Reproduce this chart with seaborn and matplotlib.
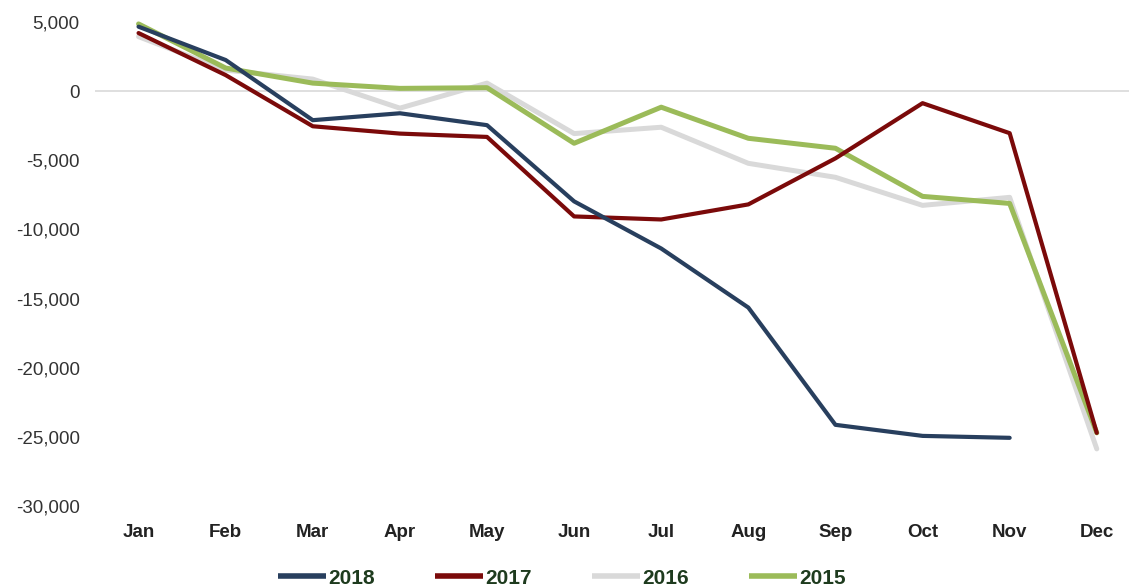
import matplotlib
matplotlib.use("Agg")
import matplotlib.pyplot as plt
import seaborn as sns
import pandas as pd
import numpy as np
from matplotlib.lines import Line2D

months = ["Jan", "Feb", "Mar", "Apr", "May", "Jun", "Jul", "Aug", "Sep", "Oct", "Nov", "Dec"]
s2018 = [4660, 2250, -2100, -1600, -2460, -7970, -11380, -15650, -24130, -24930, -25070, np.nan]
s2017 = [4200, 1160, -2540, -3070, -3310, -9060, -9280, -8190, -4860, -870, -3040, -24710]
s2016 = [3940, 1520, 870, -1230, 580, -3070, -2610, -5220, -6230, -8260, -7680, -25870]
s2015 = [4860, 1670, 580, 200, 250, -3770, -1160, -3410, -4130, -7610, -8120, -24710]
years = ["2018", "2017", "2016", "2015"]
colors = {"2018": "#283f5e", "2017": "#7b0a0a", "2016": "#d9d9d9", "2015": "#9bbb59"}
widths = {"2018": 3.0, "2017": 3.0, "2016": 3.6, "2015": 3.6}
yticks = [5000, 0, -5000, -10000, -15000, -20000, -25000, -30000]

rows = []
for y, vals in zip(years, [s2018, s2017, s2016, s2015]):
    for i, v in enumerate(vals):
        rows.append({"year": y, "month": months[i], "idx": i, "value": v})
df = pd.DataFrame(rows)

sns.set_theme(style="white")
plt.rcParams['font.family'] = ['Liberation Sans', 'DejaVu Sans']

fig = plt.figure(figsize=(11.29, 5.88), dpi=100)
ax = fig.add_axes([95/1129, 1 - 506/588, (1129 - 95)/1129, (506 - 22)/588])

ax.axhline(0, color="#d9d9d9", lw=1.2, zorder=1)

zorders = {"2016": 2, "2015": 3, "2017": 4, "2018": 5}
for y in ["2016", "2015", "2017", "2018"]:
    sub = df[df["year"] == y]
    sns.lineplot(data=sub, x="idx", y="value", ax=ax, color=colors[y],
                 lw=widths[y], zorder=zorders[y], clip_on=False,
                 solid_capstyle="round", solid_joinstyle="round", legend=False)

ax.set_xlim(-0.5, 11.37)
ax.set_ylim(-30000, 5000)
ax.set_xticks(range(12))
ax.set_xticklabels(months, fontsize=13.5, fontweight="bold", color="#222222")
ax.set_yticks(yticks)
ax.set_yticklabels([f"{t:,}" for t in yticks], fontsize=13.5, color="#333333")
ax.tick_params(axis="x", length=0, pad=13)
ax.tick_params(axis="y", length=0, pad=11)
ax.set_xlabel("")
ax.set_ylabel("")
for s in ax.spines.values():
    s.set_visible(False)

handles = [Line2D([0], [0], color=colors[y], lw=4, solid_capstyle="butt") for y in years]
leg = fig.legend(handles, years, loc="center", bbox_to_anchor=(0.498, 1 - 578/588),
                 ncol=4, frameon=False, handlelength=2.3, handletextpad=0.1,
                 columnspacing=2.9,
                 prop={"family": ["Liberation Sans", "DejaVu Sans"],
                       "weight": "bold", "size": 15})
for t in leg.get_texts():
    t.set_color("#1e3b1e")

fig.savefig("out.png", dpi=100)
